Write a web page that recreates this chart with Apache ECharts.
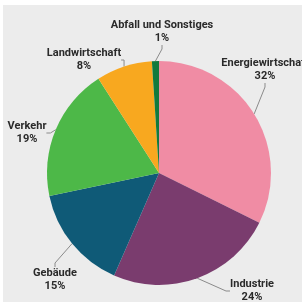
<!DOCTYPE html>
<html>
<head>
<meta charset="utf-8">
<script src="https://cdn.jsdelivr.net/npm/echarts@6/dist/echarts.min.js"></script>
<style>
  html, body { margin: 0; padding: 0; background: #fff; }
  #panel { position: absolute; left: 3px; top: 5px; width: 299px; height: 297px; background: #ececec; }
  #chart { position: absolute; left: 0; top: 0; width: 302px; height: 302px; }
</style>
</head>
<body>
<div id="panel"></div>
<div id="chart"></div>
<script>
  // Anteile in Prozent, im Uhrzeigersinn ab 12 Uhr
  var sectors = ['Energiewirtschaft', 'Industrie', 'Gebäude', 'Verkehr', 'Landwirtschaft', 'Abfall und Sonstiges'];
  var shares = [32, 24, 15, 19, 8, 1];
  var colors = ['#f08ca4', '#7a3c6e', '#0f5a77', '#4db848', '#f8a81f', '#127a3d'];

  // label centres (px)
  var labelPos = [[265, 70], [252, 291], [55, 280], [27, 133], [84, 60], [162, 32]];

  var data = [];
  for (var i = 0; i < sectors.length; i++) {
    data.push({ name: sectors[i], value: shares[i], itemStyle: { color: colors[i] } });
  }

  var myChart = echarts.init(document.getElementById('chart'));
  var option = {
    animation: false,
    series: [
      {
        type: 'pie',
        center: [159, 173],
        radius: 112,
        startAngle: 90,
        clockwise: true,
        itemStyle: { borderWidth: 0 },
        label: {
          show: true,
          position: 'outside',
          alignTo: 'none',
          overflow: 'none',
          formatter: '{b}\n{c}%',
          fontFamily: 'Roboto, sans-serif',
          fontWeight: 'bold',
          fontSize: 11,
          lineHeight: 13,
          color: '#2a2a2a',
          align: 'center'
        },
        labelLine: {
          show: true,
          length: 8,
          length2: 4,
          lineStyle: { color: '#8a8a8a', width: 1 }
        },
        labelLayout: function (params) {
          var p = labelPos[params.dataIndex];
          return { x: p[0], y: p[1], align: 'center', verticalAlign: 'middle' };
        },
        data: data
      }
    ]
  };
  myChart.setOption(option);
</script>
</body>
</html>
